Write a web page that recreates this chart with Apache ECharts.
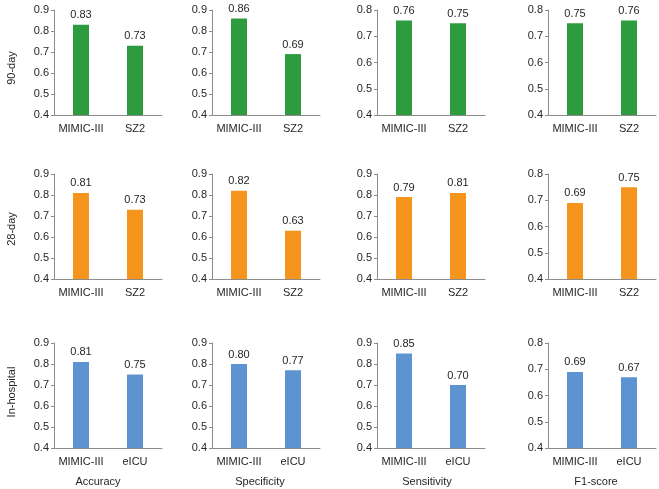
<!DOCTYPE html>
<html>
<head>
<meta charset="utf-8">
<script src="https://cdn.jsdelivr.net/npm/echarts@6/dist/echarts.min.js"></script>
<style>html,body{margin:0;padding:0;background:#fff}#c{width:659px;height:489px}#err{position:absolute;left:0;top:0;font:10px monospace;white-space:pre-wrap;width:650px}</style>
</head>
<body>
<div id="c"></div>
<div id="err"></div>
<script>
// ---- data ----
var rowNames = ['90-day', '28-day', 'In-hospital'];
var metricNames = ['Accuracy', 'Specificity', 'Sensitivity', 'F1-score'];
var catsSZ2 = ['MIMIC-III', 'SZ2'];
var catsEICU = ['MIMIC-III', 'eICU'];
// values per metric: [MIMIC-III, external]
var day90 = [[0.83, 0.73], [0.86, 0.69], [0.76, 0.75], [0.75, 0.76]];
var day28 = [[0.81, 0.73], [0.82, 0.63], [0.79, 0.81], [0.69, 0.75]];
var inHospital = [[0.81, 0.75], [0.80, 0.77], [0.85, 0.70], [0.69, 0.67]];
var yMax90 = [0.9, 0.9, 0.8, 0.8];
var yMax28 = [0.9, 0.9, 0.9, 0.8];
var yMaxHosp = [0.9, 0.9, 0.9, 0.8];
var yMin = 0.4;

// ---- layout ----
var rowData = [day90, day28, inHospital];
var rowMax = [yMax90, yMax28, yMaxHosp];
var rowCats = [catsSZ2, catsSZ2, catsEICU];
var rowColors = ['#2e9b3e', '#f5951e', '#5e93d1'];
var gridLefts = [54, 212, 377, 548];
var gridTops = [10, 174, 343];
var gridBottoms = [115, 279, 448];
var gridW = 108;
var textColor = '#262626';
var font = 'Liberation Sans';
var fs = 11;

function fmt1(v) { return v.toFixed(1); }
function fmt2(p) { return Number(p.value).toFixed(2); }

var grids = [], xAxes = [], yAxes = [], series = [];
var idx = 0;
for (var r = 0; r < 3; r++) {
  for (var c = 0; c < 4; c++) {
    var maxV = rowMax[r][c];
    grids.push({ left: gridLefts[c], top: gridTops[r], width: gridW, height: gridBottoms[r] - gridTops[r] });
    xAxes.push({
      type: 'category', gridIndex: idx, data: rowCats[r],
      axisLine: { lineStyle: { color: '#8c8c8c', width: 1 } },
      axisTick: { show: false },
      axisLabel: { color: textColor, fontSize: fs, fontFamily: font, margin: 8, interval: 0 }
    });
    yAxes.push({
      type: 'value', gridIndex: idx, min: yMin, max: maxV, interval: 0.1,
      splitLine: { show: false },
      axisLine: { show: true, lineStyle: { color: '#8c8c8c', width: 1 } },
      axisTick: { show: true, length: 3, lineStyle: { color: '#8c8c8c' } },
      axisLabel: { color: textColor, fontSize: fs, fontFamily: font, margin: 5, formatter: fmt1 }
    });
    series.push({
      type: 'bar', xAxisIndex: idx, yAxisIndex: idx, data: rowData[r][c].slice(),
      barWidth: 16,
      itemStyle: { color: rowColors[r] },
      label: { show: true, position: 'top', distance: 4, color: textColor, fontSize: fs, fontFamily: font, formatter: fmt2 },
      silent: true
    });
    idx++;
  }
}

var graphics = [];
var rowCenters = [68, 229, 392];
for (var r2 = 0; r2 < 3; r2++) {
  graphics.push({
    type: 'text', x: 12, y: rowCenters[r2], rotation: Math.PI / 2,
    style: { text: rowNames[r2], fill: textColor, fontSize: fs, fontFamily: font, align: 'center', verticalAlign: 'middle' }
  });
}
var colCenters = [98, 260, 427, 596];
for (var c2 = 0; c2 < 4; c2++) {
  graphics.push({
    type: 'text', x: colCenters[c2], y: 482,
    style: { text: metricNames[c2], fill: textColor, fontSize: fs, fontFamily: font, align: 'center', verticalAlign: 'middle' }
  });
}

try {
  var chart = echarts.init(document.getElementById('c'));
  chart.setOption({
    animation: false,
    grid: grids, xAxis: xAxes, yAxis: yAxes, series: series, graphic: graphics
  });
} catch (e) {
  document.getElementById('err').textContent = String(e) + '\n' + (e.stack || '').slice(0, 1500);
}
</script>
</body>
</html>
